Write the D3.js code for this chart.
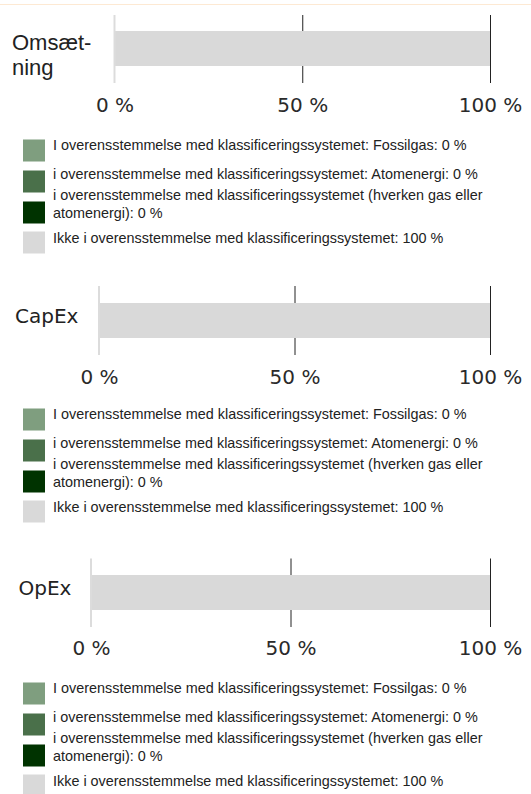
<!DOCTYPE html>
<html>
<head>
<meta charset="utf-8">
<script src="https://cdn.jsdelivr.net/npm/d3@7.9.0/dist/d3.min.js"></script>
<style>
  body { margin: 0; background: #fff; }
  svg { display: block; }
</style>
</head>
<body>
<svg id="chart" width="531" height="794"></svg>
<script>
// data
const categories = ['Omsætning', 'CapEx', 'OpEx'];
const seriesKeys = ['fossilgas', 'atomenergi', 'neither', 'notAligned'];
const seriesNames = [
  'I overensstemmelse med klassificeringssystemet: Fossilgas',
  'i overensstemmelse med klassificeringssystemet: Atomenergi',
  'i overensstemmelse med klassificeringssystemet (hverken gas eller atomenergi)',
  'Ikke i overensstemmelse med klassificeringssystemet'
];
const fossilgas = [0, 0, 0];
const atomenergi = [0, 0, 0];
const neither = [0, 0, 0];
const notAligned = [100, 100, 100];
const tickValues = [0, 50, 100];

const colors = ['#7f9e7f', '#4a704a', '#003300', '#d9d9d9'];

// layout of the three panels
const panels = [
  { label: ['Omsæt-', 'ning'], font: 'Liberation Sans, Arial, sans-serif', size: 22, lx: 12, ly: [50, 75],
    x0: 114.5, x1: 490, top: 15, barTop: 31, barBot: 66, bottom: 83, tickY: 112, legendY: 139.5 },
  { label: ['CapEx'], font: 'DejaVu Sans, sans-serif', size: 20, lx: 15, ly: [322.5],
    x0: 99, x1: 490, top: 286, barTop: 303, barBot: 338, bottom: 355, tickY: 383.5, legendY: 408.5 },
  { label: ['OpEx'], font: 'DejaVu Sans, sans-serif', size: 20, lx: 18.5, ly: [594.5],
    x0: 91, x1: 490, top: 558.5, barTop: 575, barBot: 610, bottom: 627, tickY: 655, legendY: 682.5 }
];
const swatchOffsets = [0, 31, 62, 92];
const textOffsets = [10.5, 39.5, 60, 103];

const svg = d3.select('#chart');

// faint line along the top
svg.append('line')
  .attr('x1', 0).attr('x2', 531).attr('y1', 4.5).attr('y2', 4.5)
  .attr('stroke', '#fde9d3').attr('stroke-width', 1);

const rows = categories.map((c, i) => ({
  category: c,
  fossilgas: fossilgas[i],
  atomenergi: atomenergi[i],
  neither: neither[i],
  notAligned: notAligned[i]
}));
const stacked = d3.stack().keys(seriesKeys)(rows);

panels.forEach((p, i) => {
  const g = svg.append('g');
  const x = d3.scaleLinear().domain([0, 100]).range([p.x0, p.x1]);

  // axis with full-height grid lines
  const axis = d3.axisBottom(x)
    .tickValues(tickValues)
    .tickSize(p.bottom - p.top)
    .tickFormat(d => d + ' %');
  const ax = g.append('g')
    .attr('transform', `translate(0,${p.top})`)
    .call(axis);
  ax.select('.domain').remove();
  ax.selectAll('.tick line')
    .attr('stroke', '#222')
    .attr('stroke-width', 1)
    .attr('display', d => d === 0 ? 'none' : null);
  ax.selectAll('.tick text')
    .attr('y', p.tickY - p.top)
    .attr('dy', null)
    .attr('fill', '#2a2a2a')
    .style('font-family', 'DejaVu Sans, sans-serif')
    .style('font-size', '20px');

  // stacked bar
  g.selectAll('rect.bar')
    .data(stacked)
    .join('rect')
    .attr('class', 'bar')
    .attr('x', s => x(s[i][0]))
    .attr('width', s => x(s[i][1]) - x(s[i][0]))
    .attr('y', p.barTop)
    .attr('height', p.barBot - p.barTop)
    .attr('fill', (s, k) => colors[k]);

  // zero line on top
  g.append('line')
    .attr('x1', x(0)).attr('x2', x(0))
    .attr('y1', p.top).attr('y2', p.bottom)
    .attr('stroke', '#dcdcdc').attr('stroke-width', 2);

  // category label
  const lab = g.append('text')
    .attr('fill', '#222')
    .style('font-family', p.font)
    .style('font-size', p.size + 'px');
  p.label.forEach((t, j) => {
    lab.append('tspan').attr('x', p.lx).attr('y', p.ly[j]).text(t);
  });

  // legend
  const leg = g.append('g').attr('transform', `translate(0,${p.legendY})`);
  seriesKeys.forEach((key, k) => {
    const value = rows[i][key];
    leg.append('rect')
      .attr('x', 23).attr('y', swatchOffsets[k])
      .attr('width', 22).attr('height', 22)
      .attr('fill', colors[k]);
    const txt = leg.append('text')
      .attr('fill', '#222')
      .style('font-family', 'Liberation Sans, Arial, sans-serif')
      .style('font-size', '14.4px');
    wrapText(txt, `${seriesNames[k]}: ${value} %`, 53, textOffsets[k], 460, 18);
  });
});

function wrapText(textSel, str, x, y, maxW, lineH) {
  const words = str.split(' ');
  let line = [];
  let lineNo = 0;
  let tspan = textSel.append('tspan').attr('x', x).attr('y', y);
  words.forEach(w => {
    line.push(w);
    tspan.text(line.join(' '));
    if (tspan.node().getComputedTextLength() > maxW && line.length > 1) {
      line.pop();
      tspan.text(line.join(' '));
      line = [w];
      lineNo++;
      tspan = textSel.append('tspan').attr('x', x).attr('y', y + lineNo * lineH).text(w);
    }
  });
}
</script>
</body>
</html>
